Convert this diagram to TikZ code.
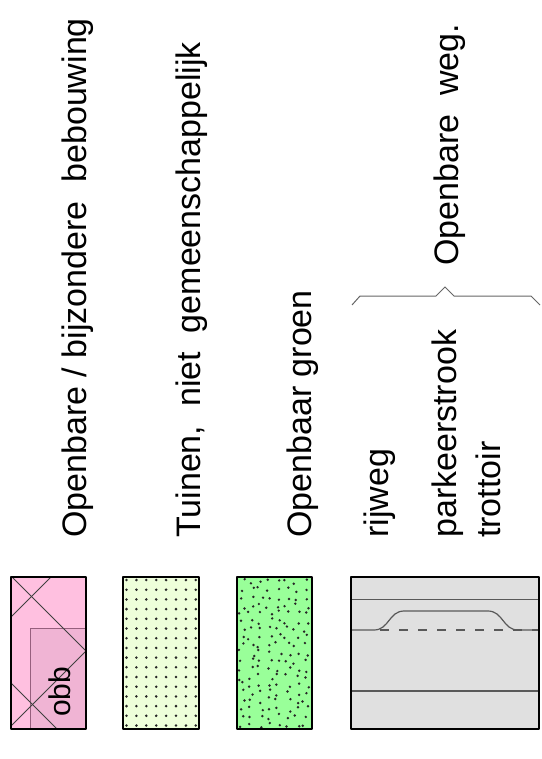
\documentclass[tikz,border=0pt]{standalone}
\usepackage{fontspec}
\setmainfont{Liberation Sans}
\begin{document}
\begin{tikzpicture}[x=1pt,y=-1pt,
  lbl/.style={rotate=90,anchor=base west,inner sep=0pt,font=\fontsize{34}{40}\selectfont},
  boxborder/.style={draw=black,line width=2.8pt,line join=round},
  thinline/.style={draw=black!75,line width=0.9pt},
  roadline/.style={draw=black!65,line width=1.2pt}]
\definecolor{pinkfill}{RGB}{255,192,224}
\definecolor{pinkinner}{RGB}{240,180,212}
\definecolor{pinkedge}{RGB}{150,95,125}
\definecolor{tuinfill}{RGB}{238,255,218}
\definecolor{groenfill}{RGB}{153,255,153}
\definecolor{wegfill}{RGB}{224,224,224}
\useasboundingbox (0,0) rectangle (541,759);
\fill[white] (0,0) rectangle (541,759);

% ---- labels
\node[lbl] (t1) at (86,538) {Openbare / bijzondere\ \ bebouwing};
\node[lbl] (t2) at (200,538) {Tuinen,\ \ niet\ \ gemeenschappelijk};
\node[lbl] (t3) at (311,538) {Openbaar groen};
\node[lbl] (t4) at (388,538) {rijweg};
\node[lbl] (t5) at (456,538) {parkeerstrook};
\node[lbl] (t6) at (500,538) {trottoir};
\node[lbl] (t7) at (458,266) {Openbare\ \ weg.};

% ---- brace
\draw[draw=black!60,line width=1pt] (352,305) -- (360,296) -- (436,296) -- (445,287) -- (454,296) -- (531,296) -- (540,305);

% ---- box 1: bebouwing
\fill[pinkfill] (11,577) rectangle (86,729);
\draw[draw=pinkedge,line width=1pt] (86,628) -- (30,628) -- (30,729);
\fill[pinkinner] (30.5,628.5) rectangle (86,729);
\begin{scope}
\clip (11,577) rectangle (86,729);
\draw[thinline] (628-560,560) -- (628-750,750);
\draw[thinline] (0,565) -- (200,765);
\draw[thinline] (737-560,560) -- (737-760,760);
\draw[thinline] (0,672) -- (100,772);
\end{scope}
\node[rotate=90,anchor=base west,inner sep=0pt,font=\fontsize{30}{36}\selectfont] (obb) at (70,717) {obb};
\draw[boxborder] (11,577) rectangle (86,729);

% ---- box 2: tuinen (regular dots)
\fill[tuinfill] (123,577) rectangle (199,729);
\foreach \i in {0,...,7}{
  \foreach \j in {0,...,15}{
    \fill[black!85] (126.5+9.9*\i,580+9.7*\j) circle (1.4pt);
  }
}
\draw[boxborder] (123,577) rectangle (199,729);

% ---- box 3: openbaar groen (random dots)
\fill[groenfill] (237,577) rectangle (312,729);
\pgfmathsetseed{4711}
\foreach \i in {0,...,7}{
  \foreach \j in {0,...,18}{
    \pgfmathsetmacro{\dx}{rand*3.2}
    \pgfmathsetmacro{\dy}{rand*3.2}
    \fill[black!85] (242+9.1*\i+\dx,582+7.9*\j+\dy) circle (1.35pt);
  }
}
\draw[boxborder] (237,577) rectangle (312,729);

% ---- box 4: openbare weg
\fill[wegfill] (351,577) rectangle (539,729);
\draw[roadline] (351,599.5) -- (539,599.5);
\draw[roadline] (351,691) -- (539,691);
\draw[roadline,dash pattern=on 9pt off 10pt] (380,630) -- (539,630);
\draw[roadline] (351,630) -- (374,630) .. controls (389,630) and (389,611) .. (404,611) -- (488,611) .. controls (503,611) and (503,630) .. (518,630) -- (539,630);
\draw[boxborder] (351,577) rectangle (539,729);
\end{tikzpicture}
\end{document}
